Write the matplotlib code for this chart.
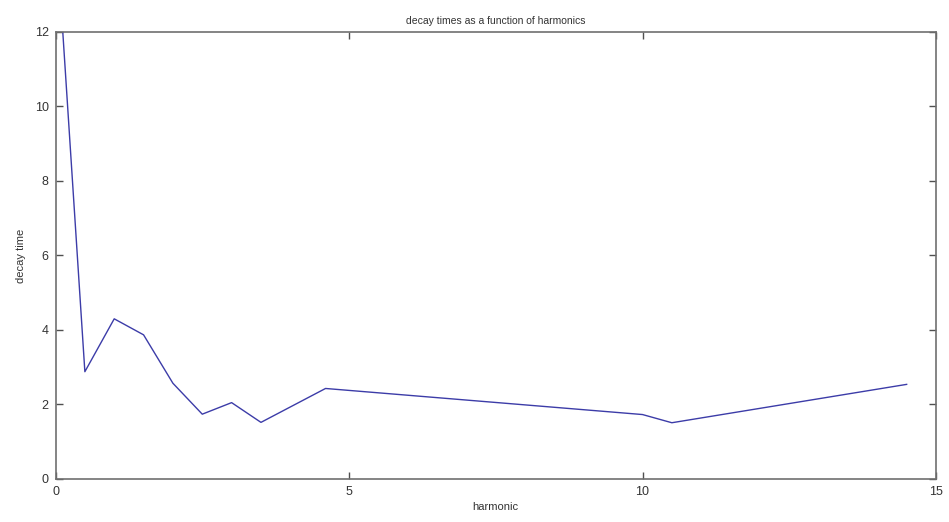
import matplotlib
matplotlib.use("Agg")
import matplotlib.pyplot as plt

plt.rcParams["font.family"] = ["Liberation Sans", "DejaVu Sans"]

# harmonic number vs measured decay time
harmonic = [0.0, 0.5, 1.0, 1.5, 2.0, 2.5, 3.0, 3.5, 4.6, 10.0, 10.5, 14.5]
decay_time = [15.0, 2.88, 4.30, 3.87, 2.57, 1.74, 2.05, 1.52, 2.43, 1.73, 1.51, 2.54]

x_ticks = [0, 5, 10, 15]
y_ticks = [0, 2, 4, 6, 8, 10, 12]

fig = plt.figure(figsize=(9.49, 5.22), dpi=100)
ax = fig.add_axes([0.0585, 0.0824, 0.9278, 0.8563])

ax.plot(harmonic, decay_time, color="#3c3ca8", linewidth=1.0)

ax.set_xlim(0, 15)
ax.set_ylim(0, 12)
ax.set_xticks(x_ticks)
ax.set_yticks(y_ticks)

for s in ax.spines.values():
    s.set_color("#707070")
    s.set_linewidth(1.2)

ax.tick_params(direction="in", top=True, right=True, length=5, width=1,
               color="#505050", labelsize=9, labelcolor="#333333", pad=5)

ax.set_title("decay times as a function of harmonics", fontsize=7.5,
             color="#333333", pad=6)
ax.set_xlabel("harmonic", fontsize=8, color="#333333", labelpad=3)
ax.set_ylabel("decay time", fontsize=8, color="#333333", labelpad=6)

fig.savefig("out.png", dpi=100)
